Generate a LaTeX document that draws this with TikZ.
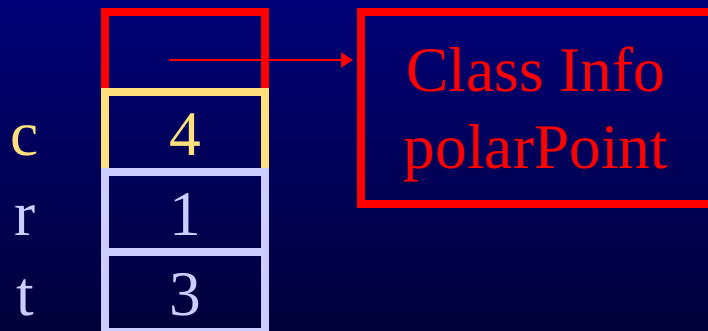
\documentclass[tikz,border=0pt]{standalone}
\usepackage{fontspec}
\setmainfont{Liberation Serif}
\usetikzlibrary{arrows.meta}
\definecolor{bgtop}{RGB}{0,0,118}
\definecolor{bgbot}{RGB}{0,0,58}
\definecolor{ptrred}{RGB}{255,0,0}
\definecolor{cyel}{RGB}{255,224,122}
\definecolor{lav}{RGB}{204,204,255}
\tikzset{
  cell/.style={draw, line width=8pt, minimum width=160pt, minimum height=80pt, inner sep=0pt},
  bigtxt/.style={font=\fontsize{63.5}{73}\selectfont, inner sep=0pt, anchor=base},
  ptr/.style={draw=ptrred, line width=2pt, -{Triangle[length=12pt,width=15pt]}}
}
\begin{document}
\begin{tikzpicture}[x=1pt,y=-1pt]
\shade[top color=bgtop, bottom color=bgbot] (0,0) rectangle (708,331);
\useasboundingbox (0,0) rectangle (708,331);
\clip (0,0) rectangle (708,331);
% memory cells
\node[cell, draw=ptrred] (hdr) at (185,52) {};
\node[cell, draw=cyel] (cc) at (185,132) {};
\node[cell, draw=lav] (rc) at (185,212) {};
\node[cell, draw=lav] (tc) at (185,292) {};
% values
\node[bigtxt, text=cyel] (v4) at (185,155) {4};
\node[bigtxt, text=lav] (v1) at (185,235) {1};
\node[bigtxt, text=lav] (v3) at (185,315) {3};
% field names
\node[bigtxt, text=cyel] (lc) at (25,155) {c};
\node[bigtxt, text=lav] (lr) at (25,235) {r};
\node[bigtxt, text=lav] (lt) at (25,315) {t};
% class info box
\node[draw=ptrred, line width=8pt, minimum width=369pt, minimum height=192pt, inner sep=0pt] (ci) at (545.5,108) {};
\node[bigtxt, text=ptrred] (ci1) at (536,92) {Class Info};
\node[bigtxt, text=ptrred] (ci2) at (536,168) {polarPoint};
% pointer
\coordinate (p) at (169,60);
\draw[ptr, shorten >=4pt] (p) -- (p -| ci.west);
\end{tikzpicture}
\end{document}
